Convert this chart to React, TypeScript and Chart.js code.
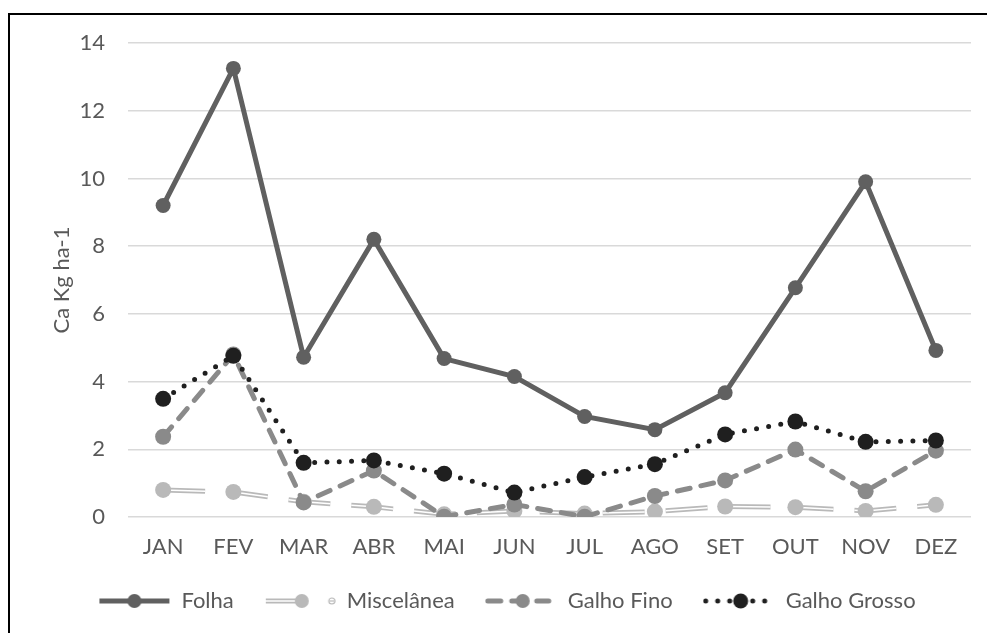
import React, { useEffect, useRef } from "react";
import { Chart, registerables } from "chart.js";

Chart.register(...registerables);

const months = ["JAN", "FEV", "MAR", "ABR", "MAI", "JUN", "JUL", "AGO", "SET", "OUT", "NOV", "DEZ"];
const folha = [9.2, 13.25, 4.72, 8.2, 4.68, 4.15, 2.97, 2.58, 3.67, 6.77, 9.9, 4.92];
const miscelanea = [0.8, 0.74, 0.45, 0.3, 0.08, 0.18, 0.1, 0.16, 0.31, 0.29, 0.18, 0.36];
const galhoFino = [2.37, 4.8, 0.43, 1.37, 0.01, 0.37, 0.01, 0.62, 1.08, 1.99, 0.76, 1.96];
const galhoGrosso = [3.49, 4.76, 1.6, 1.67, 1.28, 0.72, 1.18, 1.56, 2.44, 2.82, 2.22, 2.26];
const yTicks = [0, 2, 4, 6, 8, 10, 12, 14];

const C_FOLHA = "#606060";
const C_MISC = "#b9b9b9";
const C_FINO = "#8a8a8a";
const C_GROSSO = "#1f1f1f";
const TEXT = "#595959";
const FONT = "Lato, 'Open Sans', sans-serif";

function makeSymbol(kind: string): HTMLCanvasElement {
  const c = document.createElement("canvas");
  c.width = 72;
  c.height = 20;
  const g = c.getContext("2d")!;
  const cy = 10;
  g.lineCap = "round";
  if (kind === "folha") {
    g.strokeStyle = C_FOLHA;
    g.lineWidth = 5;
    g.lineCap = "butt";
    g.beginPath(); g.moveTo(1, cy); g.lineTo(71, cy); g.stroke();
    g.fillStyle = C_FOLHA;
    g.beginPath(); g.arc(36, cy, 7, 0, Math.PI * 2); g.fill();
  } else if (kind === "misc") {
    g.lineCap = "butt";
    g.strokeStyle = C_MISC; g.lineWidth = 5;
    g.beginPath(); g.moveTo(2, cy); g.lineTo(32, cy); g.stroke();
    g.strokeStyle = "#fff"; g.lineWidth = 1.5;
    g.beginPath(); g.moveTo(2, cy); g.lineTo(32, cy); g.stroke();
    g.fillStyle = C_MISC;
    g.beginPath(); g.arc(38, cy, 7, 0, Math.PI * 2); g.fill();
    g.strokeStyle = C_MISC; g.lineWidth = 1.2;
    g.beginPath(); g.arc(68, cy, 3, 0, Math.PI * 2); g.stroke();
    g.beginPath(); g.moveTo(66, cy); g.lineTo(70, cy); g.stroke();
  } else if (kind === "fino") {
    g.strokeStyle = C_FINO; g.lineWidth = 5;
    g.beginPath(); g.moveTo(3, cy); g.lineTo(16, cy); g.stroke();
    g.beginPath(); g.moveTo(52, cy); g.lineTo(64, cy); g.stroke();
    g.fillStyle = C_FINO;
    g.beginPath(); g.arc(38, cy, 7, 0, Math.PI * 2); g.fill();
    g.beginPath(); g.moveTo(27, cy); g.lineTo(32, cy); g.stroke();
  } else {
    g.fillStyle = C_GROSSO;
    [3, 15, 27, 50, 62].forEach((x) => { g.beginPath(); g.arc(x, cy, 2.5, 0, Math.PI * 2); g.fill(); });
    g.beginPath(); g.arc(38, cy, 7.5, 0, Math.PI * 2); g.fill();
  }
  return c;
}

const miscLinePlugin = {
  id: "miscLine",
  beforeDatasetDraw(chart: any, args: any) {
    const ds = chart.data.datasets[args.index];
    if (!ds || ds.label !== "Miscelânea") return;
    const pts = args.meta.data;
    if (!pts || pts.length < 2) return;
    const ctx = chart.ctx;
    ctx.save();
    ctx.setLineDash([42, 21]);
    ctx.lineCap = "butt";
    ctx.lineJoin = "round";
    ctx.beginPath();
    ctx.moveTo(pts[0].x, pts[0].y);
    for (let i = 1; i < pts.length; i++) ctx.lineTo(pts[i].x, pts[i].y);
    ctx.strokeStyle = C_MISC;
    ctx.lineWidth = 5;
    ctx.stroke();
    ctx.strokeStyle = "#ffffff";
    ctx.lineWidth = 1.5;
    ctx.stroke();
    ctx.restore();
  },
};

export default function App() {
  const ref = useRef<HTMLCanvasElement | null>(null);

  useEffect(() => {
    document.body.style.overflow = "hidden";
    const canvas = ref.current;
    if (!canvas) return;
    const symbols = [makeSymbol("folha"), makeSymbol("misc"), makeSymbol("fino"), makeSymbol("grosso")];

    const chart = new Chart(canvas, {
      type: "line",
      data: {
        labels: months,
        datasets: [
          {
            label: "Folha",
            data: folha,
            borderColor: C_FOLHA,
            backgroundColor: C_FOLHA,
            borderWidth: 5,
            pointRadius: 7.5,
            pointBackgroundColor: C_FOLHA,
            pointBorderWidth: 0,
            order: 4,
          },
          {
            label: "Miscelânea",
            data: miscelanea,
            showLine: false,
            borderColor: C_MISC,
            backgroundColor: C_MISC,
            pointRadius: 8,
            pointBackgroundColor: C_MISC,
            pointBorderWidth: 0,
            order: 3,
          },
          {
            label: "Galho Fino",
            data: galhoFino,
            borderColor: C_FINO,
            backgroundColor: C_FINO,
            borderWidth: 5,
            borderDash: [13, 11],
            borderCapStyle: "round",
            pointRadius: 8,
            pointBackgroundColor: C_FINO,
            pointBorderWidth: 0,
            order: 2,
          },
          {
            label: "Galho Grosso",
            data: galhoGrosso,
            borderColor: C_GROSSO,
            backgroundColor: C_GROSSO,
            borderWidth: 5,
            borderDash: [0, 12.3],
            borderCapStyle: "round",
            pointRadius: 8,
            pointBackgroundColor: C_GROSSO,
            pointBorderWidth: 0,
            order: 1,
          },
        ] as any,
      },
      options: {
        animation: false,
        responsive: false,
        maintainAspectRatio: false,
        layout: { padding: { left: 33, right: 16, top: 28, bottom: 13 } },
        plugins: {
          tooltip: { enabled: false },
          legend: {
            position: "bottom",
            labels: {
              usePointStyle: true,
              pointStyleWidth: 72,
              padding: 30,
              color: TEXT,
              font: { family: FONT, size: 22 },
              generateLabels: (ch: any) =>
                ch.data.datasets.map((d: any, i: number) => ({
                  text: d.label,
                  fillStyle: d.borderColor,
                  strokeStyle: d.borderColor,
                  lineWidth: 0,
                  pointStyle: symbols[i],
                  hidden: false,
                  datasetIndex: i,
                  fontColor: TEXT,
                })),
            },
          },
        },
        scales: {
          x: {
            offset: true,
            grid: { display: false, drawTicks: false },
            border: { display: false },
            ticks: { color: TEXT, font: { family: FONT, size: 22 }, padding: 17, maxRotation: 0, autoSkip: false },
            afterFit: (s: any) => { s.height = 43; },
          },
          y: {
            min: 0,
            max: 14,
            afterBuildTicks: (s: any) => { s.ticks = yTicks.map((v) => ({ value: v })); },
            grid: { color: "#d9d9d9", lineWidth: 1.5, drawTicks: false },
            border: { display: false },
            ticks: { color: TEXT, font: { family: FONT, size: 22 }, padding: 23 },
            title: {
              display: true,
              text: "Ca Kg ha-1",
              color: TEXT,
              font: { family: FONT, size: 22, weight: "normal" },
              padding: { top: 6, bottom: 0 },
            },
            afterFit: (s: any) => { s.width = 85; s.paddingTop = 0; s.paddingBottom = 0; },
          },
        },
      } as any,
      plugins: [miscLinePlugin],
    });
    return () => chart.destroy();
  }, []);

  return (
    <div
      style={{
        position: "absolute",
        left: 8,
        top: 13,
        width: 977,
        height: 620,
        borderLeft: "2px solid #000",
        borderTop: "2px solid #000",
        background: "#fff",
      }}
    >
      <canvas ref={ref} width={977} height={620} style={{ display: "block", width: 977, height: 620 }} />
    </div>
  );
}
